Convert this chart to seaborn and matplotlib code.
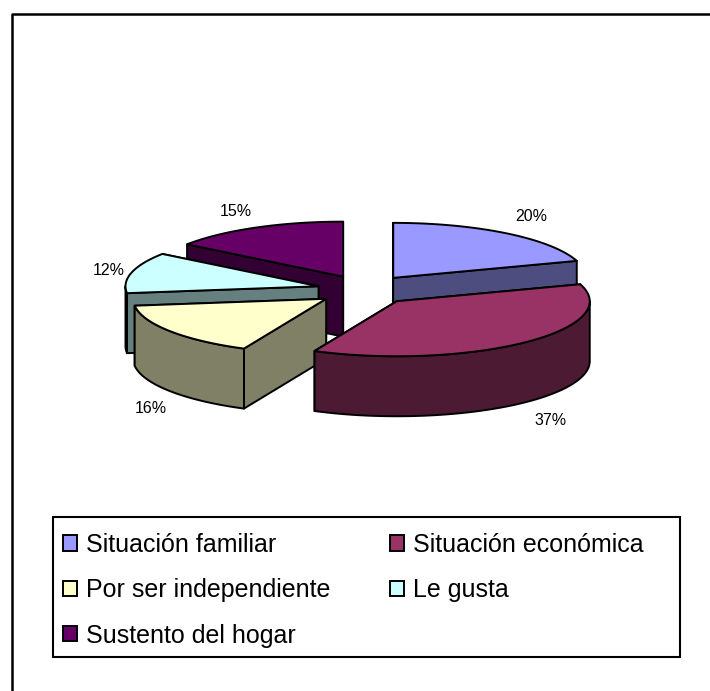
import numpy as np
import seaborn as sns
import matplotlib
matplotlib.use("Agg")
import matplotlib.pyplot as plt
from matplotlib.patches import Patch, Rectangle

categories = ["Situación familiar", "Situación económica", "Por ser independiente", "Le gusta", "Sustento del hogar"]
values = [20, 37, 16, 12, 15]
pct_labels = ["20%", "37%", "16%", "12%", "15%"]
top_colors = ["#9999FF", "#993366", "#FFFFCC", "#CCFFFF", "#660066"]
side_colors = ["#4D4D80", "#4D1A33", "#808066", "#668080", "#330033"]
label_pos = [(531, 216), (551, 420), (151, 408), (109, 270), (236, 211)]

sns.set_theme(style="white")
plt.rcParams["font.family"] = ["Liberation Sans", "DejaVu Sans"]

cx, cy = 365, 290
rx, ry = 193, 55
ex, ey = 48, 15
depth = 60
lw = 1.4


def pt(ang, x0, y0, a=rx, b=ry):
    r = np.radians(ang)
    return x0 + a * np.sin(r), y0 - b * np.cos(r)


def draw_slice(ax, a0, a1, top, side, z):
    mid = (a0 + a1) / 2
    x0, y0 = pt(mid, cx, cy, ex, ey)
    angs = np.linspace(a0, a1, 80)
    xs, ys = pt(angs, x0, y0)
    # cut faces, the one further back first
    faces = []
    for a in (a0, a1):
        x1, y1 = pt(a, x0, y0)
        faces.append(([x0, x1, x1, x0], [y0, y1, y1 + depth, y0 + depth]))
    faces.sort(key=lambda f: np.mean(f[1]))
    for fx, fy in faces:
        ax.fill(fx, fy, facecolor=side, edgecolor="black", lw=lw, zorder=z, joinstyle="round")
    # outer rim, only the front half of the ellipse shows
    lo, hi = max(a0, 90), min(a1, 270)
    if hi > lo:
        ra = np.linspace(lo, hi, 80)
        rxs, rys = pt(ra, x0, y0)
        ax.fill(np.r_[rxs, rxs[::-1]], np.r_[rys, rys[::-1] + depth],
                facecolor=side, edgecolor="black", lw=lw, zorder=z + 0.1, joinstyle="round")
    ax.fill(np.r_[x0, xs], np.r_[y0, ys], facecolor=top, edgecolor="black", lw=lw,
            zorder=z + 0.2, joinstyle="round")


fig = plt.figure(figsize=(7.10, 6.91), dpi=100, facecolor="white")
ax = fig.add_axes([0, 0, 1, 1])
ax.set_xlim(0, 710)
ax.set_ylim(691, 0)
ax.axis("off")

# outer chart frame, cut off at the right and bottom
ax.plot([12, 12, 710], [691, 14, 14], color="black", lw=1.8, zorder=1)

edges = np.r_[0, np.cumsum(values)] * 3.6
paint_order = [4, 3, 0, 2, 1]
for n, i in enumerate(paint_order):
    draw_slice(ax, edges[i], edges[i + 1], top_colors[i], side_colors[i], 2 + n)

for (x, y), s in zip(label_pos, pct_labels):
    ax.text(x, y, s, fontsize=11.5, ha="center", va="center", color="black", zorder=10)

# legend box drawn apart so the padding can differ per side
ax.add_patch(Rectangle((53, 517), 627, 140, facecolor="white", edgecolor="black", lw=1.5, zorder=11))

# matplotlib fills legend columns first, reference reads across rows
handles = [Patch(facecolor=top_colors[i], edgecolor="black", lw=1.4, label=categories[i]) for i in [0, 2, 4, 1, 3]]
leg = ax.legend(handles=handles, ncol=2, loc="upper left", bbox_to_anchor=(63 / 710, 1 - 533 / 691),
                bbox_transform=fig.transFigure, fontsize=18, frameon=False, labelcolor="black",
                borderaxespad=0, borderpad=0, handlelength=0.57, handleheight=0.57, handletextpad=0.37,
                labelspacing=0.85, columnspacing=2.35)
leg.set_zorder(12)

sns.despine(fig=fig, left=True, bottom=True)
fig.savefig("out.png", dpi=100, facecolor="white")
